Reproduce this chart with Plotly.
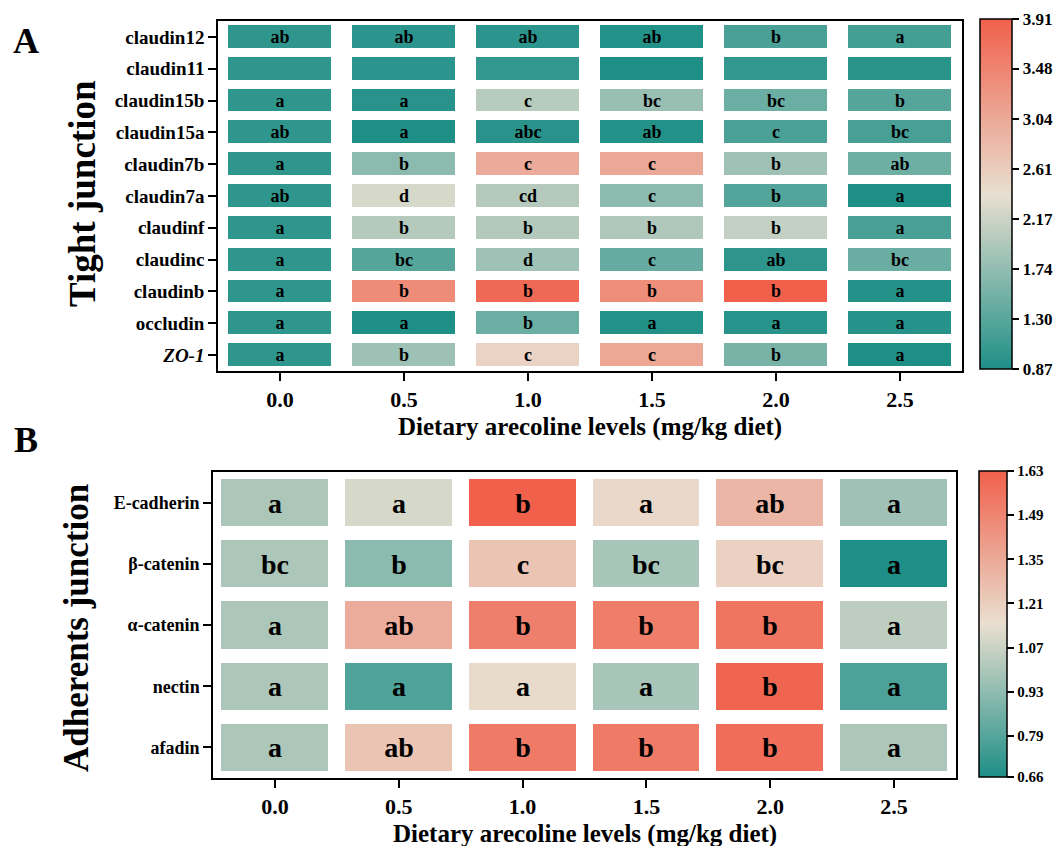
import plotly.graph_objects as go

# ---------------- data ----------------
levels = [0.0, 0.5, 1.0, 1.5, 2.0, 2.5]
level_labels = ["0.0", "0.5", "1.0", "1.5", "2.0", "2.5"]

tj_genes = ["claudin12", "claudin11", "claudin15b", "claudin15a", "claudin7b",
            "claudin7a", "claudinf", "claudinc", "claudinb", "occludin", "ZO-1"]
tj_gene_labels = ["claudin12", "claudin11", "claudin15b", "claudin15a", "claudin7b",
                  "claudin7a", "claudinf", "claudinc", "claudinb", "occludin", "<i>ZO-1</i>"]
tj_values = [
    [1.00, 0.97, 0.97, 0.90, 1.20, 1.15],   # claudin12
    [1.00, 0.97, 1.02, 0.87, 1.02, 0.96],   # claudin11
    [1.00, 0.95, 2.02, 1.79, 1.45, 1.28],   # claudin15b
    [1.00, 0.88, 0.95, 0.90, 1.21, 1.18],   # claudin15a
    [1.00, 1.69, 3.01, 3.05, 1.84, 1.47],   # claudin7b
    [1.00, 2.25, 2.00, 1.69, 1.27, 0.87],   # claudin7a
    [1.00, 2.00, 1.98, 1.96, 2.11, 1.20],   # claudinf
    [1.00, 1.28, 1.83, 1.41, 0.99, 1.44],   # claudinc
    [1.00, 3.38, 3.80, 3.37, 3.91, 0.92],   # claudinb
    [1.00, 0.88, 1.45, 0.90, 0.94, 0.93],   # occludin
    [1.00, 1.82, 2.53, 3.06, 1.55, 0.87],   # ZO-1
]
tj_letters = [
    ["ab", "ab", "ab", "ab", "b", "a"],
    ["", "", "", "", "", ""],
    ["a", "a", "c", "bc", "bc", "b"],
    ["ab", "a", "abc", "ab", "c", "bc"],
    ["a", "b", "c", "c", "b", "ab"],
    ["ab", "d", "cd", "c", "b", "a"],
    ["a", "b", "b", "b", "b", "a"],
    ["a", "bc", "d", "c", "ab", "bc"],
    ["a", "b", "b", "b", "b", "a"],
    ["a", "a", "b", "a", "a", "a"],
    ["a", "b", "c", "c", "b", "a"],
]
tj_ticks = [0.87, 1.30, 1.74, 2.17, 2.61, 3.04, 3.48, 3.91]

aj_genes = ["E-cadherin", "β-catenin", "α-catenin", "nectin", "afadin"]
aj_values = [
    [1.00, 1.10, 1.63, 1.17, 1.30, 0.97],   # E-cadherin
    [1.00, 0.92, 1.25, 0.99, 1.20, 0.66],   # beta-catenin
    [1.00, 1.34, 1.51, 1.52, 1.55, 1.04],   # alpha-catenin
    [1.00, 0.78, 1.16, 0.99, 1.61, 0.77],   # nectin
    [1.00, 1.25, 1.53, 1.53, 1.58, 1.00],   # afadin
]
aj_letters = [
    ["a", "a", "b", "a", "ab", "a"],
    ["bc", "b", "c", "bc", "bc", "a"],
    ["a", "ab", "b", "b", "b", "a"],
    ["a", "a", "a", "a", "b", "a"],
    ["a", "ab", "b", "b", "b", "a"],
]
aj_ticks = [0.66, 0.79, 0.93, 1.07, 1.21, 1.35, 1.49, 1.63]

# ---------------- styling ----------------
W, H = 1061, 846
FONT = "Liberation Serif, Times New Roman, serif"
cscale = [[0.0, "#1e8f87"], [0.5, "#e9dfd0"], [1.0, "#f0604b"]]


def px_x(p):
    return p / W


def px_y(p):
    return 1 - p / H


fig = go.Figure()

fig.add_trace(go.Heatmap(
    x=levels, y=tj_genes, z=tj_values, text=tj_letters,
    texttemplate="<b>%{text}</b>",
    textfont=dict(family=FONT, size=18, color="black"),
    colorscale=cscale, zmin=min(tj_ticks), zmax=max(tj_ticks),
    xgap=21, ygap=9, xaxis="x", yaxis="y",
    colorbar=dict(
        x=px_x(972), xanchor="left", xpad=0,
        y=px_y(186), yanchor="middle", ypad=0,
        len=350, lenmode="pixels", thickness=32, thicknessmode="pixels",
        outlinecolor="black", outlinewidth=1.5,
        tickmode="array", tickvals=tj_ticks, ticktext=[f"{v:.2f}" for v in tj_ticks],
        ticks="outside", ticklen=7, tickwidth=1.5, tickcolor="black",
        tickfont=dict(family=FONT, size=17, color="black", weight="bold"),
    ),
    hoverinfo="skip",
))

fig.add_trace(go.Heatmap(
    x=levels, y=aj_genes, z=aj_values, text=aj_letters,
    texttemplate="<b>%{text}</b>",
    textfont=dict(family=FONT, size=28, color="black"),
    colorscale=cscale, zmin=min(aj_ticks), zmax=max(aj_ticks),
    xgap=17, ygap=14, xaxis="x2", yaxis="y2",
    colorbar=dict(
        x=px_x(971), xanchor="left", xpad=0,
        y=px_y(616), yanchor="middle", ypad=0,
        len=306, lenmode="pixels", thickness=28, thicknessmode="pixels",
        outlinecolor="black", outlinewidth=1.5,
        tickmode="array", tickvals=aj_ticks, ticktext=[f"{v:.2f}" for v in aj_ticks],
        ticks="outside", ticklen=7, tickwidth=1.5, tickcolor="black",
        tickfont=dict(family=FONT, size=15, color="black", weight="bold"),
    ),
    hoverinfo="skip",
))

axis_common = dict(showline=True, mirror=True, linecolor="black", linewidth=1.5,
                   ticks="outside", ticklen=8, tickwidth=1.5, tickcolor="black",
                   showgrid=False, zeroline=False)

fig.update_layout(
    width=W, height=H, autosize=False,
    margin=dict(l=0, r=0, t=0, b=0),
    paper_bgcolor="white", plot_bgcolor="white",
    font=dict(family=FONT, color="black"),
    xaxis=dict(domain=[px_x(210), px_x(954)], anchor="y", range=[-0.25, 2.75],
               tickmode="array", tickvals=levels, ticktext=level_labels,
               tickfont=dict(family=FONT, size=22, weight="bold"), **axis_common),
    yaxis=dict(domain=[px_y(363), px_y(13)], anchor="x", autorange="reversed",
               tickmode="array", tickvals=tj_genes, ticktext=tj_gene_labels,
               tickfont=dict(family=FONT, size=19, weight="bold"), **axis_common),
    xaxis2=dict(domain=[px_x(205), px_x(948)], anchor="y2", range=[-0.25, 2.75],
                tickmode="array", tickvals=levels, ticktext=level_labels,
                tickfont=dict(family=FONT, size=22, weight="bold"), **axis_common),
    yaxis2=dict(domain=[px_y(770), px_y(464)], anchor="x2", autorange="reversed",
                tickmode="array", tickvals=aj_genes, ticktext=aj_genes,
                tickfont=dict(family=FONT, size=18, weight="bold"), **axis_common),
)

ann_font = dict(family=FONT, color="black", weight="bold")
annotations = [
    dict(text="A", x=px_x(18), y=px_y(33), font=dict(size=36, **ann_font)),
    dict(text="B", x=px_x(18), y=px_y(432), font=dict(size=36, **ann_font)),
    dict(text="Tight junction", x=px_x(74), y=px_y(186), textangle=-90,
         font=dict(size=37, **ann_font)),
    dict(text="Adherents junction", x=px_x(68), y=px_y(620), textangle=-90,
         font=dict(size=35, **ann_font)),
    dict(text="Dietary arecoline levels (mg/kg diet)", x=px_x(582), y=px_y(419),
         font=dict(size=25, **ann_font)),
    dict(text="Dietary arecoline levels (mg/kg diet)", x=px_x(577), y=px_y(826),
         font=dict(size=25, **ann_font)),
]
for a in annotations:
    a.update(xref="paper", yref="paper", showarrow=False,
             xanchor="center", yanchor="middle")
fig.update_layout(annotations=annotations)

fig.write_html("out.html")
